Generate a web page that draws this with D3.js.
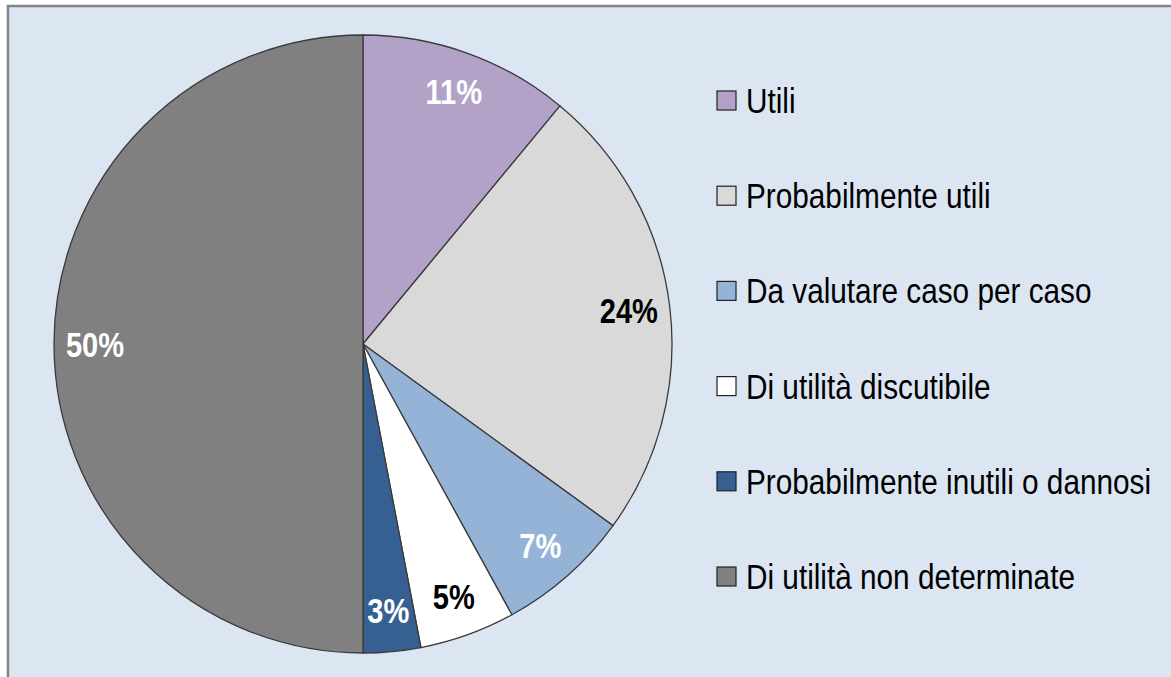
<!DOCTYPE html>
<html>
<head>
	<meta charset="utf-8">
	<title>Pie</title>
	<script src="https://d3js.org/d3.v7.min.js"></script>
	<style>
		body { margin: 0; background: #fff; }
		svg { display: block; }
		text.pct {
			font-family: "Liberation Sans", Arial, sans-serif;
			font-weight: bold;
			font-size: 35px;
		}
		text.leg {
			font-family: "Liberation Sans", Arial, sans-serif;
			font-size: 35px;
			fill: #000;
		}
	</style>
</head>
<body>
	<svg width="1171" height="677"></svg>
<script>
	const categories = [
		'Utili',
		'Probabilmente utili',
		'Da valutare caso per caso',
		'Di utilità discutibile',
		'Probabilmente inutili o dannosi',
		'Di utilità non determinate'
	];
	const values = [11, 24, 7, 5, 3, 50];
	const colors = ['#b3a2c7', '#d9d9d9', '#95b3d7', '#ffffff', '#376092', '#808080'];
	const labelColors = ['#fff', '#000', '#fff', '#000', '#fff', '#fff'];

	const data = categories.map((c, i) => ({ name: c, value: values[i], color: colors[i], lc: labelColors[i] }));

	const svg = d3.select('svg');
	const narrow = 0.83; // no narrow font installed, squeeze text horizontally

	// background + frame
	svg.append('rect')
		.attr('x', 0).attr('y', 0).attr('width', 1171).attr('height', 677)
		.attr('fill', '#fff');
	svg.append('rect')
		.attr('x', 8).attr('y', 6).attr('width', 1200).attr('height', 700)
		.attr('fill', '#dce6f2')
		.attr('stroke', '#858585')
		.attr('stroke-width', 2.5);

	const cx = 363, cy = 344, radius = 309;

	const pie = d3.pie().sort(null).value(d => d.value);
	const arc = d3.arc().innerRadius(0).outerRadius(radius);
	const labelArc = d3.arc().innerRadius(268).outerRadius(268);

	const g = svg.append('g').attr('transform', `translate(${cx}, ${cy})`);

	const slices = g.selectAll('g.slice')
		.data(pie(data))
		.enter()
		.append('g')
		.attr('class', 'slice');

	slices.append('path')
		.attr('d', arc)
		.attr('fill', d => d.data.color)
		.attr('stroke', '#3a3a3a')
		.attr('stroke-width', 1.3);

	slices.append('text')
		.attr('class', 'pct')
		.attr('transform', d => `translate(${labelArc.centroid(d)}) scale(${narrow}, 1)`)
		.attr('text-anchor', 'middle')
		.attr('dy', '0.36em')
		.attr('fill', d => d.data.lc)
		.text(d => `${d.data.value}%`);

	// legend
	const legY = d3.scalePoint().domain(categories).range([101, 577]);

	const leg = svg.append('g').selectAll('g')
		.data(data)
		.enter()
		.append('g')
		.attr('transform', d => `translate(717, ${legY(d.name)})`);

	leg.append('rect')
		.attr('x', 0).attr('y', -10)
		.attr('width', 19).attr('height', 19)
		.attr('fill', d => d.color)
		.attr('stroke', '#222')
		.attr('stroke-width', 1.2);

	leg.append('text')
		.attr('class', 'leg')
		.attr('transform', `translate(29, 12) scale(0.85, 1)`)
		.text(d => d.name);
</script>
</body>
</html>
